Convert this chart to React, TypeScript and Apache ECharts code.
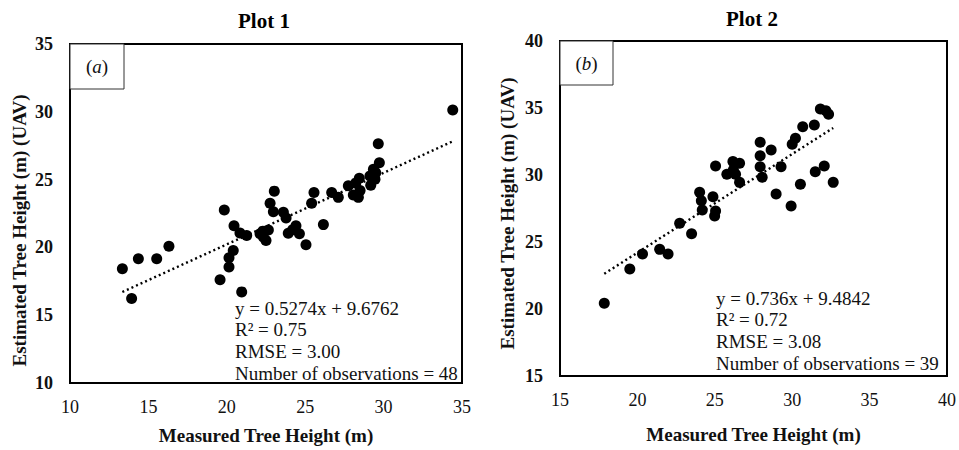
import React, { useEffect, useRef } from "react";
import * as echarts from "echarts";

// Plot 1 (a): measured vs. UAV-estimated tree height
const measured1 = [
  34.41, 29.66, 29.73, 29.35, 29.13, 29.45, 29.18, 28.45, 28.22, 27.75, 28.07, 28.39,
  26.69, 27.11, 25.56, 25.41, 26.16, 23.03, 22.76, 22.97, 23.61, 23.78, 24.41, 23.92,
  24.63, 25.05, 22.65, 22.12, 22.33, 22.5, 21.27, 20.84, 20.46, 19.84, 20.41, 20.14,
  20.14, 19.57, 20.95, 16.31, 15.53, 14.36, 13.34, 13.93, 29.5, 22.3, 24.2, 28.5,
];
const estimated1 = [
  30.14, 27.65, 26.25, 25.76, 25.27, 25.03, 24.59, 25.1, 24.74, 24.54, 23.86, 23.69,
  24.05, 23.69, 24.05, 23.25, 21.68, 24.15, 23.25, 22.63, 22.59, 22.17, 21.6, 21.05,
  21.0, 20.19, 21.29, 21.0, 20.76, 20.51, 20.87, 21.07, 21.6, 22.76, 19.77, 19.24,
  18.55, 17.62, 16.72, 20.09, 19.16, 19.16, 18.43, 16.23, 25.5, 21.2, 21.3, 24.2,
];

// Plot 2 (b)
const measured2 = [
  31.82, 32.18, 32.35, 31.43, 30.68, 30.21, 30.0, 28.64, 27.93, 27.93, 27.93, 28.06,
  29.28, 28.96, 29.93, 30.53, 31.49, 32.07, 32.65, 26.17, 26.6, 25.78, 26.34, 26.6,
  25.05, 24.88, 25.05, 24.99, 24.02, 24.13, 24.19, 22.73, 23.5, 20.33, 21.44, 21.98,
  19.51, 17.86, 26.2,
];
const estimated2 = [
  34.93, 34.8, 34.53, 33.73, 33.6, 32.74, 32.29, 31.87, 32.44, 31.44, 30.62, 29.83,
  30.62, 28.58, 27.69, 29.31, 30.25, 30.67, 29.45, 31.0, 30.87, 30.05, 30.05, 29.45,
  30.67, 28.38, 27.31, 26.94, 28.71, 28.08, 27.39, 26.4, 25.62, 24.1, 24.45, 24.1,
  22.99, 20.43, 30.4,
];

// Linear fits and statistics
const fit1 = { slope: 0.5274, intercept: 9.6762 };
const fit2 = { slope: 0.736, intercept: 9.4842 };
const stats1 = ["y = 0.5274x + 9.6762", "R² = 0.75", "RMSE = 3.00", "Number of observations = 48"];
const stats2 = ["y = 0.736x + 9.4842", "R² = 0.72", "RMSE = 3.08", "Number of observations = 39"];

const titles = ["Plot 1", "Plot 2"];
const panelTags = ["a", "b"];
const xAxisName = "Measured Tree Height (m)";
const yAxisName = "Estimated Tree Height (m) (UAV)";
const axisRanges = [
  { xMin: 10, xMax: 35, yMin: 10, yMax: 35 },
  { xMin: 15, xMax: 40, yMin: 15, yMax: 40 },
];

const FONT = "'Liberation Serif', 'Times New Roman', serif";

function zipPoints(xs: number[], ys: number[]) {
  return xs.map((x, i) => [x, ys[i]]);
}

function trendLine(xs: number[], fit: { slope: number; intercept: number }) {
  const lo = Math.min(...xs);
  const hi = Math.max(...xs);
  return [
    [lo, fit.slope * lo + fit.intercept],
    [hi, fit.slope * hi + fit.intercept],
  ];
}

export default function App() {
  const ref = useRef<HTMLDivElement>(null);

  useEffect(() => {
    if (!ref.current) return;
    const chart = echarts.init(ref.current, undefined, { renderer: "svg" });

    const grids = [
      { left: 70, top: 44, width: 392, height: 340 },
      { left: 560, top: 41, width: 388, height: 335 },
    ];

    const statsText = (lines: string[], x: number, y: number) =>
      lines.map((t, i) => ({
        type: "text",
        x,
        y: y + i * 21.8,
        style: {
          text: t,
          font: `19px ${FONT}`,
          fill: "#111",
          textVerticalAlign: "middle",
        },
        z: 10,
      }));

    const tagBox = (g: { left: number; top: number }, tag: string, w: number, h: number) => [
      {
        type: "rect",
        shape: { x: g.left, y: g.top, width: w, height: h },
        style: { fill: "#fff", stroke: "#333", lineWidth: 1 },
        z: 5,
      },
      {
        type: "text",
        x: g.left + w / 2,
        y: g.top + h / 2,
        style: {
          text: `(${"{i|" + tag + "}"})`,
          font: `19px ${FONT}`,
          fill: "#111",
          textAlign: "center",
          textVerticalAlign: "middle",
          rich: { i: { fontStyle: "italic", fontSize: 19, fontFamily: FONT } },
        },
        z: 6,
      },
    ];

    const dotStyle = { color: "#000", opacity: 1 };
    // extra end padding nudges each rotated axis name down along the axis
    const yNamePadding = [
      [0, 34, 0, 0],
      [0, 10, 0, 0],
    ];

    chart.setOption({
      animation: false,
      backgroundColor: "#fff",
      textStyle: { fontFamily: FONT },
      title: [
        {
          text: titles[0],
          left: 259,
          top: 5,
          textAlign: "center",
          textStyle: { fontFamily: FONT, fontWeight: "bold", fontSize: 21, color: "#000" },
        },
        {
          text: titles[1],
          left: 747,
          top: 3,
          textAlign: "center",
          textStyle: { fontFamily: FONT, fontWeight: "bold", fontSize: 21, color: "#000" },
        },
      ],
      grid: grids.map((g) => ({
        ...g,
        show: true,
        borderColor: "#000",
        borderWidth: 2,
        backgroundColor: "transparent",
      })),
      xAxis: axisRanges.map((r, i) => ({
        type: "value",
        gridIndex: i,
        min: r.xMin,
        max: r.xMax,
        interval: 5,
        name: xAxisName,
        nameLocation: "middle",
        nameGap: i === 0 ? 43 : 49,
        nameTextStyle: { fontFamily: FONT, fontWeight: "bold", fontSize: 19, color: "#111" },
        axisLine: { show: true, lineStyle: { color: "#000", width: 2 } },
        axisTick: { show: false },
        splitLine: { show: false },
        axisLabel: {
          fontFamily: FONT,
          fontSize: 18,
          color: "#111",
          margin: 15,
        },
      })),
      yAxis: axisRanges.map((r, i) => ({
        type: "value",
        gridIndex: i,
        min: r.yMin,
        max: r.yMax,
        interval: 5,
        name: yAxisName,
        nameLocation: "middle",
        nameGap: i === 0 ? 41 : 43,
        nameTextStyle: {
          fontFamily: FONT,
          fontWeight: "bold",
          fontSize: 19,
          color: "#111",
          padding: yNamePadding[i],
        },
        axisLine: { show: true, lineStyle: { color: "#000", width: 2 } },
        axisTick: { show: false },
        splitLine: { show: false },
        axisLabel: {
          fontFamily: FONT,
          fontWeight: "bold",
          fontSize: 18,
          color: "#111",
          margin: 17,
        },
      })),
      series: [
        {
          type: "scatter",
          xAxisIndex: 0,
          yAxisIndex: 0,
          data: zipPoints(measured1, estimated1),
          symbol: "circle",
          symbolSize: 11,
          itemStyle: dotStyle,
          z: 3,
        },
        {
          type: "line",
          xAxisIndex: 0,
          yAxisIndex: 0,
          data: trendLine(measured1, fit1),
          symbol: "none",
          lineStyle: { color: "#000", width: 2.4, type: [2, 3] },
          z: 2,
        },
        {
          type: "scatter",
          xAxisIndex: 1,
          yAxisIndex: 1,
          data: zipPoints(measured2, estimated2),
          symbol: "circle",
          symbolSize: 11,
          itemStyle: dotStyle,
          z: 3,
        },
        {
          type: "line",
          xAxisIndex: 1,
          yAxisIndex: 1,
          data: trendLine(measured2, fit2),
          symbol: "none",
          lineStyle: { color: "#000", width: 2.4, type: [2, 3] },
          z: 2,
        },
      ],
      graphic: [
        ...tagBox(grids[0], panelTags[0], 54, 45),
        ...tagBox(grids[1], panelTags[1], 53, 44),
        ...statsText(stats1, 235, 308),
        ...statsText(stats2, 716, 298),
      ],
    });

    return () => chart.dispose();
  }, []);

  return (
    <div
      ref={ref}
      style={{ position: "fixed", left: 0, top: 0, width: 959, height: 450, background: "#fff" }}
    />
  );
}
